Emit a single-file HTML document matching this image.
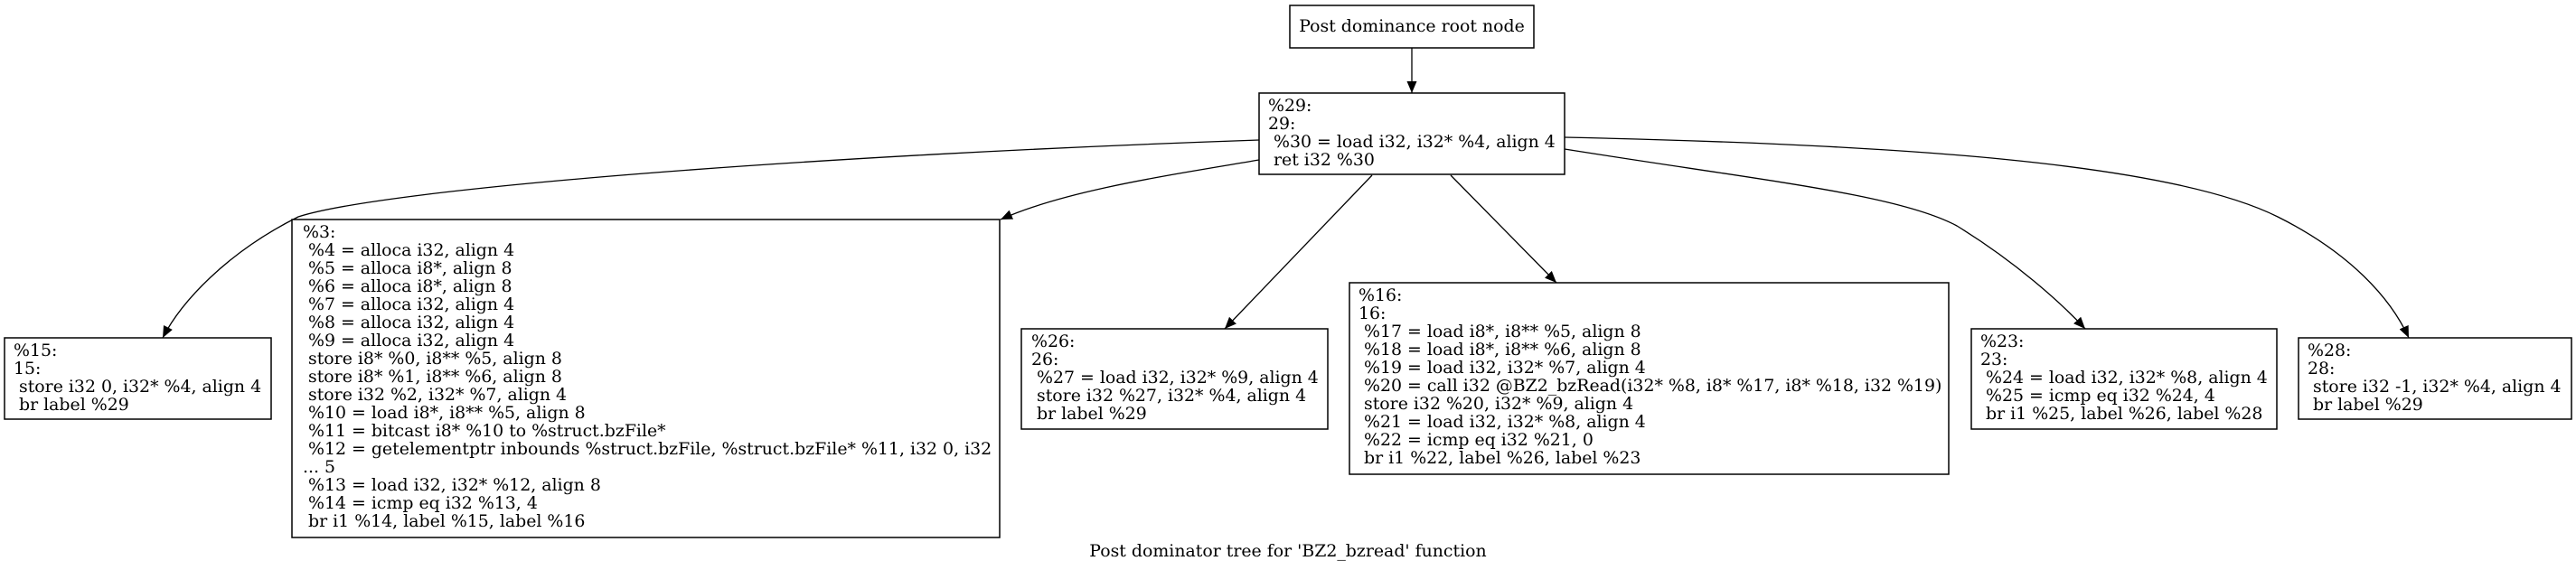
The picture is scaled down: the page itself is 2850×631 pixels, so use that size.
<!DOCTYPE html>
<html><head><meta charset="utf-8"><style>
html,body{margin:0;padding:0;background:#fff;}
svg{display:block;}
text{font-family:"DejaVu Serif","Liberation Serif",serif;font-size:18.9px;fill:#000;white-space:pre;}
rect{fill:#fff;stroke:#000;stroke-width:1.5;}
path.e{fill:none;stroke:#000;stroke-width:1.3;}
</style></head><body>
<svg width="2850" height="631" viewBox="0 0 2850 631" xmlns="http://www.w3.org/2000/svg" xml:space="preserve">
<defs><marker id="a" markerWidth="14" markerHeight="11" refX="13" refY="5.5" orient="auto" markerUnits="userSpaceOnUse"><path d="M0,0 L13,5.5 L0,11 z" fill="#000"/></marker></defs>

<rect x="1427" y="6" width="270" height="47"/>
<text x="1562" y="35" text-anchor="middle">Post dominance root node</text>
<path class="e" d="M1562,53 L1562,103" marker-end="url(#a)"/>

<rect x="1393" y="103" width="338" height="90"/>
<text x="1403" y="123">%29:</text>
<text x="1403" y="143">29:</text>
<text x="1403" y="163"> %30 = load i32, i32* %4, align 4</text>
<text x="1403" y="183"> ret i32 %30</text>

<path class="e" d="M1393,155 C900,172 430,208 330,240 C 250,280 200,335 180,374" marker-end="url(#a)"/>
<path class="e" d="M1393,177 C1300,193 1180,210 1107,243" marker-end="url(#a)"/>
<path class="e" d="M1518,194 L1355,364" marker-end="url(#a)"/>
<path class="e" d="M1605,194 L1722,313" marker-end="url(#a)"/>
<path class="e" d="M1731,165 C1950,200 2100,215 2165,250 C2230,290 2280,335 2307,364" marker-end="url(#a)"/>
<path class="e" d="M1731,152 C2100,160 2400,180 2520,240 C2600,280 2645,330 2665,374" marker-end="url(#a)"/>

<rect x="5" y="374" width="295" height="90"/>
<text x="15" y="394">%15:</text>
<text x="15" y="414">15:</text>
<text x="15" y="434"> store i32 0, i32* %4, align 4</text>
<text x="15" y="454"> br label %29</text>

<rect x="323" y="243" width="783" height="352"/>
<text x="335" y="263">%3:</text>
<text x="335" y="283"> %4 = alloca i32, align 4</text>
<text x="335" y="303"> %5 = alloca i8*, align 8</text>
<text x="335" y="323"> %6 = alloca i8*, align 8</text>
<text x="335" y="343"> %7 = alloca i32, align 4</text>
<text x="335" y="363"> %8 = alloca i32, align 4</text>
<text x="335" y="383"> %9 = alloca i32, align 4</text>
<text x="335" y="403"> store i8* %0, i8** %5, align 8</text>
<text x="335" y="423"> store i8* %1, i8** %6, align 8</text>
<text x="335" y="443"> store i32 %2, i32* %7, align 4</text>
<text x="335" y="463"> %10 = load i8*, i8** %5, align 8</text>
<text x="335" y="483"> %11 = bitcast i8* %10 to %struct.bzFile*</text>
<text x="335" y="503"> %12 = getelementptr inbounds %struct.bzFile, %struct.bzFile* %11, i32 0, i32</text>
<text x="335" y="523">... 5</text>
<text x="335" y="543"> %13 = load i32, i32* %12, align 8</text>
<text x="335" y="563"> %14 = icmp eq i32 %13, 4</text>
<text x="335" y="583"> br i1 %14, label %15, label %16</text>

<rect x="1130" y="364" width="339" height="111"/>
<text x="1141" y="384">%26:</text>
<text x="1141" y="404">26:</text>
<text x="1141" y="424"> %27 = load i32, i32* %9, align 4</text>
<text x="1141" y="444"> store i32 %27, i32* %4, align 4</text>
<text x="1141" y="464"> br label %29</text>

<rect x="1493" y="313" width="663" height="212"/>
<text x="1503" y="333">%16:</text>
<text x="1503" y="353">16:</text>
<text x="1503" y="373"> %17 = load i8*, i8** %5, align 8</text>
<text x="1503" y="393"> %18 = load i8*, i8** %6, align 8</text>
<text x="1503" y="413"> %19 = load i32, i32* %7, align 4</text>
<text x="1503" y="433"> %20 = call i32 @BZ2_bzRead(i32* %8, i8* %17, i8* %18, i32 %19)</text>
<text x="1503" y="453"> store i32 %20, i32* %9, align 4</text>
<text x="1503" y="473"> %21 = load i32, i32* %8, align 4</text>
<text x="1503" y="493"> %22 = icmp eq i32 %21, 0</text>
<text x="1503" y="513"> br i1 %22, label %26, label %23</text>

<rect x="2181" y="364" width="338" height="111"/>
<text x="2191" y="384">%23:</text>
<text x="2191" y="404">23:</text>
<text x="2191" y="424"> %24 = load i32, i32* %8, align 4</text>
<text x="2191" y="444"> %25 = icmp eq i32 %24, 4</text>
<text x="2191" y="464"> br i1 %25, label %26, label %28</text>

<rect x="2543" y="374" width="302" height="90"/>
<text x="2553" y="394">%28:</text>
<text x="2553" y="414">28:</text>
<text x="2553" y="434"> store i32 -1, i32* %4, align 4</text>
<text x="2553" y="454"> br label %29</text>

<text x="1425" y="616" text-anchor="middle">Post dominator tree for 'BZ2_bzread' function</text>
</svg>
</body></html>
